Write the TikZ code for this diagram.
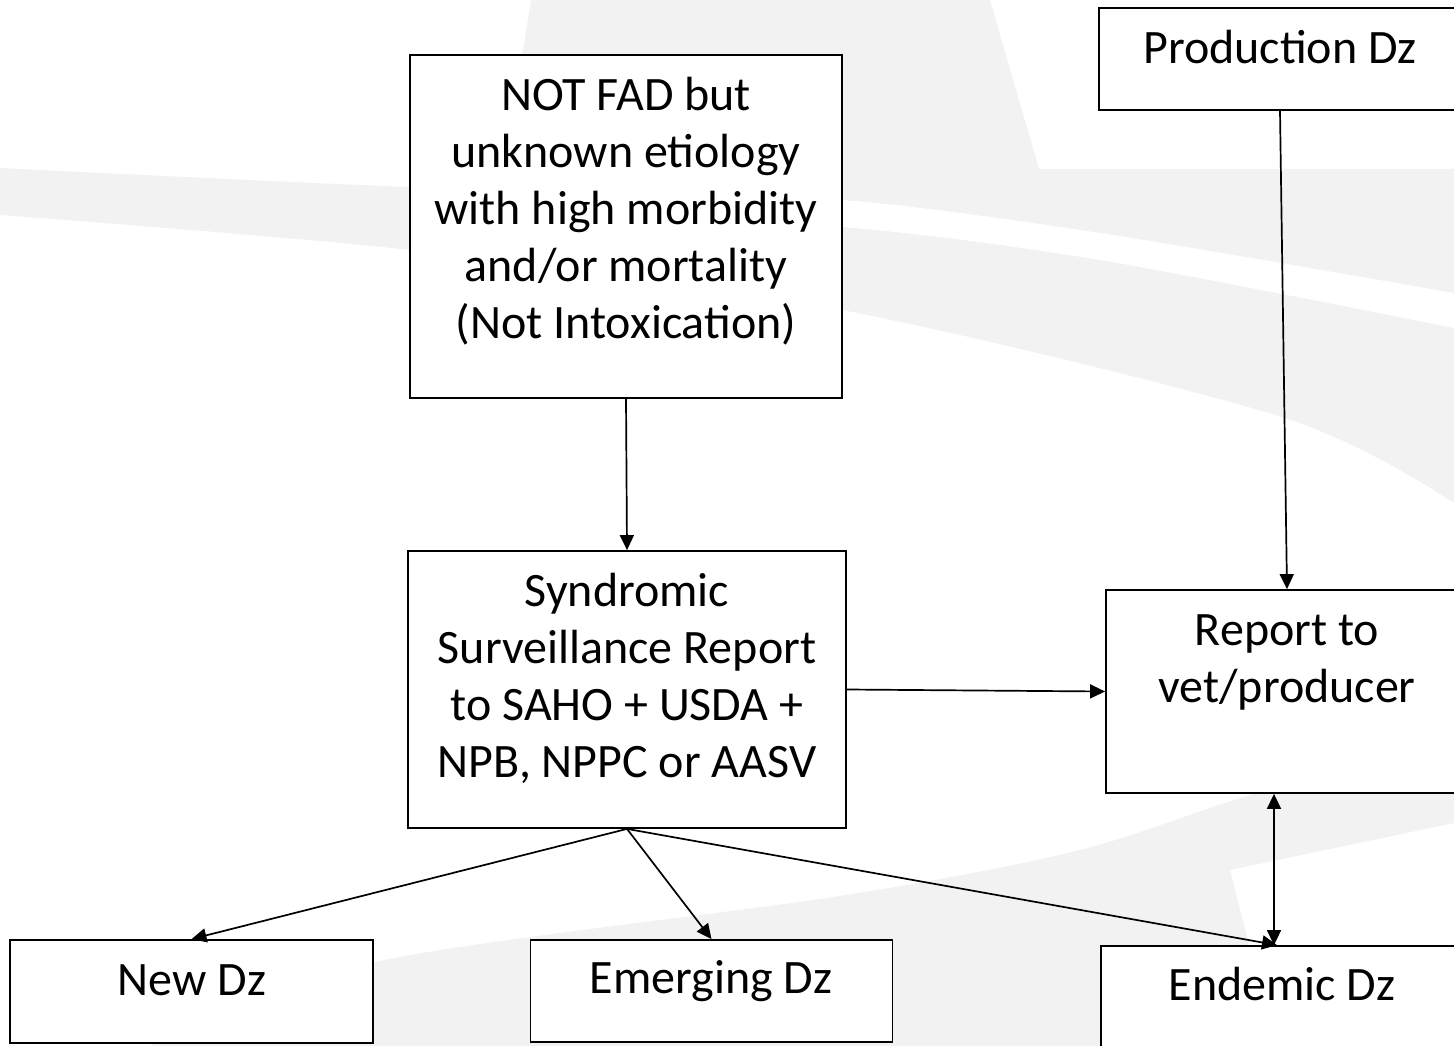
\documentclass[tikz,border=0pt]{standalone}
\usepackage{fontspec}
\setmainfont{Carlito}
\usetikzlibrary{arrows.meta,calc}
\definecolor{bggray}{HTML}{F2F2F2}
\begin{document}
\begin{tikzpicture}[x=1pt,y=-1pt,
  box/.style={draw=black,line width=1.8pt,fill=white,inner sep=0pt,rectangle},
  txt/.style={font=\fontsize{48}{57}\selectfont,align=center,anchor=base,inner sep=0pt},
  arr/.style={line width=1.7pt,-{Triangle[length=15pt,width=14pt]}},
  arrboth/.style={line width=1.7pt,{Triangle[length=15pt,width=14pt]}-{Triangle[length=15pt,width=14pt]}}]
\useasboundingbox (0,0) rectangle (1454,1046);
% background decoration
\fill[bggray] (531,0) -- (990,0) -- (1039,169) -- (1454,169) -- (1454,300) -- (842,205) -- (500,195) -- cycle;
\fill[bggray] plot[smooth] coordinates {(0,168) (410,187) (842,200) (1100,233) (1454,293)}
  -- plot[smooth] coordinates {(1454,503) (1282,417) (842,310) (410,250) (0,215)} -- cycle;
\fill[white] plot[smooth] coordinates {(600,196) (842,200) (1100,233) (1454,293)}
  -- plot[smooth] coordinates {(1454,328) (1100,260) (842,227) (600,220)} -- cycle;
\fill[bggray] plot[smooth] coordinates {(150,1046) (380,961) (840,896) (1080,850) (1257,793) (1454,745)}
  -- (1454,823) -- (1230,870) -- (1275,1046) -- cycle;
% boxes
\node[box,minimum width=362,minimum height=102] (prod) at (1280,59) {};
\node[box,minimum width=432,minimum height=343] (notfad) at (626,226.5) {};
\node[box,minimum width=438,minimum height=277] (synd) at (627,689.5) {};
\node[box,minimum width=362,minimum height=203] (report) at (1287,691.5) {};
\node[box,minimum width=363,minimum height=103] (newdz) at (191.5,991.5) {};
\node[box,minimum width=362,minimum height=102] (emerg) at (711.5,991) {};
\node[box,minimum width=362,minimum height=104] (endem) at (1282,998) {};
% texts (base anchor = baseline of the last line)
\node[txt] (prodt) at (1280,64) {Production Dz};
\node[txt] (notfadt) at (626,338) {NOT FAD but\\unknown etiology\\with high morbidity\\and/or mortality\\(Not Intoxication)};
\node[txt] (syndt) at (627,777) {Syndromic\\Surveillance Report\\to SAHO + USDA +\\NPB, NPPC or AASV};
\node[txt] (reportt) at (1287,702) {Report to\\vet/producer};
\node[txt] (newdzt) at (192,995) {New Dz};
\node[txt] (emergt) at (711,993) {Emerging Dz};
\node[txt] (endemt) at (1282,1000) {Endemic Dz};
% connectors
\draw[arr] (notfad.south) -- (synd.north);
\draw[arr] (prod.south) -- (report.north);
\draw[arr] (synd.east) -- (report.west);
\draw[arr] (synd.south) -- (newdz.north);
\draw[arr] (synd.south) -- (emerg.north);
\draw[arr] (synd.south) -- ([xshift=-5pt]endem.north);
\draw[arrboth] ([xshift=-13pt]report.south) -- ([xshift=-8pt]endem.north);
\end{tikzpicture}
\end{document}
